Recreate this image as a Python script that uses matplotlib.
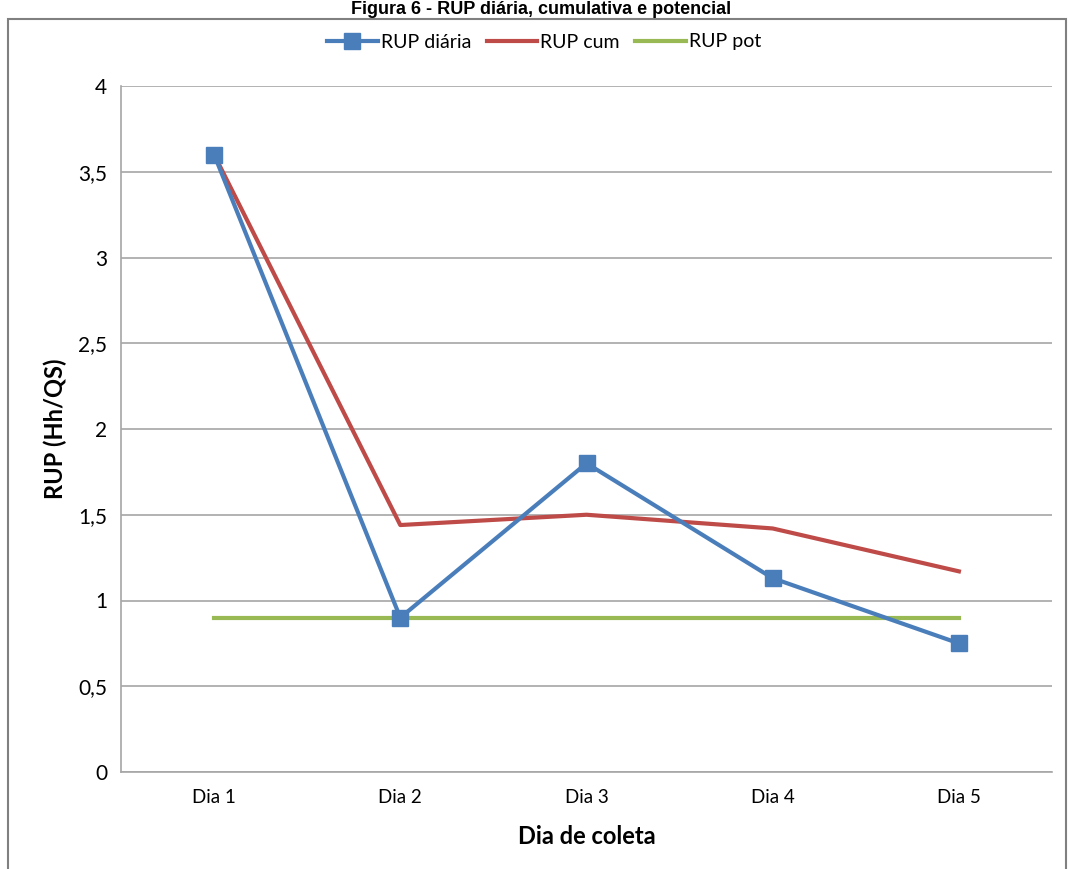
import matplotlib.pyplot as plt
from matplotlib.patches import Rectangle

# Data
dias = ["Dia 1", "Dia 2", "Dia 3", "Dia 4", "Dia 5"]
rup_diaria = [3.6, 0.9, 1.8, 1.13, 0.75]
rup_cum = [3.6, 1.44, 1.50, 1.42, 1.17]
rup_pot = [0.9, 0.9, 0.9, 0.9, 0.9]
yticks = [0, 0.5, 1, 1.5, 2, 2.5, 3, 3.5, 4]
ytick_labels = ["0", "0,5", "1", "1,5", "2", "2,5", "3", "3,5", "4"]

plt.rcParams['font.family'] = ['Lato', 'DejaVu Sans']

fig = plt.figure(figsize=(10.70, 8.69), dpi=100)
ax = fig.add_axes([121 / 1070, 97 / 869, 931 / 1070, 686 / 869])

x = range(len(dias))
ax.plot(x, rup_diaria, color="#4a7ebb", lw=3, marker="s", ms=11, label="RUP diária", zorder=4)
ax.plot(x, rup_cum, color="#be4b48", lw=3, label="RUP cum", zorder=3)
ax.plot(x, rup_pot, color="#98b954", lw=3, label="RUP pot", zorder=2)

ax.set_xlim(-0.5, 4.5)
ax.set_ylim(0, 4)
ax.set_xticks(list(x))
ax.set_xticklabels(dias, fontsize=13.5)
ax.set_yticks(yticks)
ax.set_yticklabels(ytick_labels, fontsize=15)
ax.tick_params(axis="x", length=0, pad=12)
ax.tick_params(axis="y", length=0, pad=10)
ax.grid(axis="y", color="#a6a6a6", lw=1.2)
ax.set_axisbelow(True)
for s in ["top", "right"]:
    ax.spines[s].set_visible(False)
for s in ["left", "bottom"]:
    ax.spines[s].set_color("#a6a6a6")
    ax.spines[s].set_linewidth(1.2)

ax.set_xlabel("Dia de coleta", fontsize=17, fontweight="bold", labelpad=14)
ax.set_ylabel("RUP (Hh/QS)", fontsize=17, fontweight="bold", labelpad=8)

# legend centred on the whole chart area, not the plot area
leg = fig.legend(*ax.get_legend_handles_labels(), loc="center",
                 bbox_to_anchor=(544 / 1070, 1 - 42 / 869), ncol=3, frameon=False,
                 fontsize=14, handlelength=2.6, columnspacing=0.8, handletextpad=0.15)

# outer chart border
fig.patches.append(Rectangle((8 / 1070, -0.1), 1058 / 1070, 1.1 - 19 / 869,
                             transform=fig.transFigure, fill=False,
                             edgecolor="#808080", lw=1.5))

# title at the very top
fig.text(541 / 1070, 1 - 1 / 869, "Figura 6 - RUP diária, cumulativa e potencial",
         ha="center", va="top", fontsize=13, fontweight="bold",
         family="Liberation Sans")

fig.savefig("out.png", dpi=100)
